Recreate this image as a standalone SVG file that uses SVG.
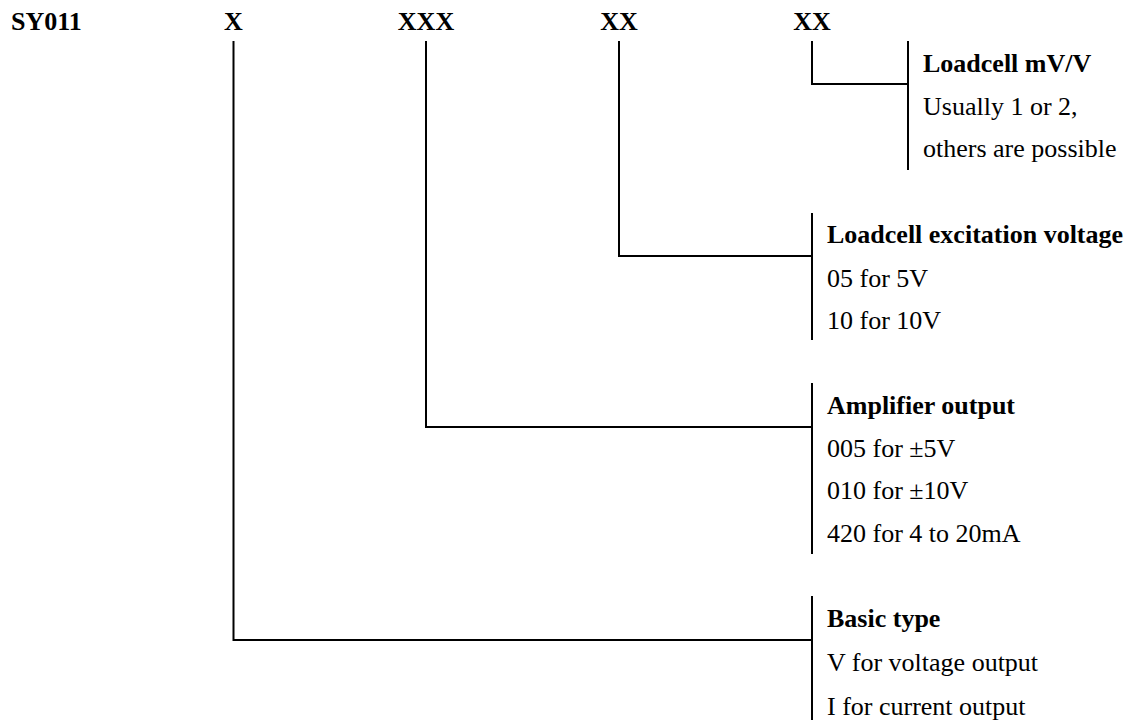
<svg xmlns="http://www.w3.org/2000/svg" width="1135" height="720" viewBox="0 0 1135 720">
<style>
text{font-family:"Liberation Serif","Times New Roman",serif;font-size:26px;fill:#000}
.b{font-weight:bold}
.c{text-anchor:middle}
.ln{fill:none;stroke:#000;stroke-width:2}
</style>
<rect width="1135" height="720" fill="#fff"/>
<g id="header">
<text class="b" x="11" y="30">SY011</text>
<text class="b c" x="233.5" y="30">X</text>
<text class="b c" x="426" y="30">XXX</text>
<text class="b c" x="619" y="30">XX</text>
<text class="b c" x="812" y="30">XX</text>
</g>
<g id="connectors">
<polyline class="ln" points="812,41 812,84 908,84"/>
<polyline class="ln" points="619,41 619,256 812,256"/>
<polyline class="ln" points="426,41 426,427 812,427"/>
<polyline class="ln" points="233.5,41 233.5,640 812,640"/>
</g>
<g id="mvv">
<line class="ln" x1="908" y1="41" x2="908" y2="170"/>
<text class="b" x="923" y="72">Loadcell mV/V</text>
<text x="923" y="115">Usually 1 or 2,</text>
<text x="923" y="157">others are possible</text>
</g>
<g id="excitation">
<line class="ln" x1="812" y1="213" x2="812" y2="340"/>
<text class="b" x="827" y="243">Loadcell excitation voltage</text>
<text x="827" y="287">05 for 5V</text>
<text x="827" y="329">10 for 10V</text>
</g>
<g id="amplifier">
<line class="ln" x1="812" y1="383" x2="812" y2="554"/>
<text class="b" x="827" y="414">Amplifier output</text>
<text x="827" y="457">005 for ±5V</text>
<text x="827" y="499">010 for ±10V</text>
<text x="827" y="542">420 for 4 to 20mA</text>
</g>
<g id="basic">
<line class="ln" x1="812" y1="596" x2="812" y2="720"/>
<text class="b" x="827" y="627">Basic type</text>
<text x="827" y="671">V for voltage output</text>
<text x="827" y="715">I for current output</text>
</g>
</svg>
